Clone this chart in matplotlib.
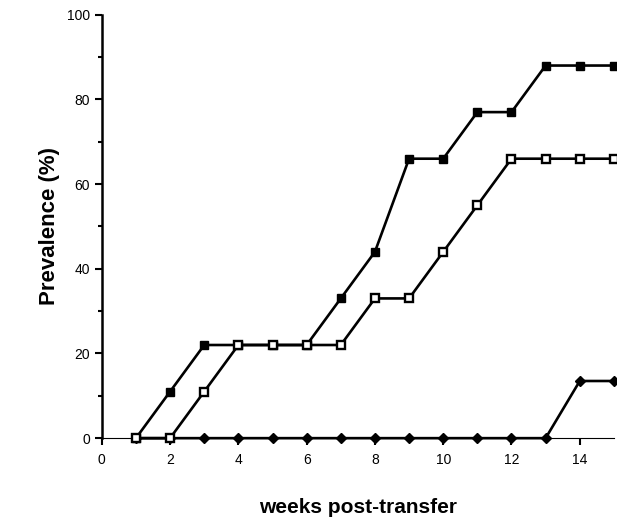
import numpy as np
import matplotlib
matplotlib.use('Agg')
import matplotlib.pyplot as plt
from matplotlib.ticker import MultipleLocator

plt.rcParams['font.family'] = ['Liberation Sans', 'DejaVu Sans']

# data
weeks = [1, 2, 3, 4, 5, 6, 7, 8, 9, 10, 11, 12, 13, 14, 15]
filled_sq = [0, 11, 22, 22, 22, 22, 33, 44, 66, 66, 77, 77, 88, 88, 88]
open_sq = [0, 0, 11, 22, 22, 22, 22, 33, 33, 44, 55, 66, 66, 66, 66]
diamonds = [0, 0, 0, 0, 0, 0, 0, 0, 0, 0, 0, 0, 0, 13.5, 13.5]

fig = plt.figure(figsize=(6.17, 5.26), dpi=100)
ax = fig.add_axes([0.165, 0.167, 0.83, 0.805])

ax.plot(weeks, diamonds, color='black', lw=1.9, marker='D', markersize=5.5,
        markerfacecolor='black', markeredgecolor='black', zorder=2, clip_on=False)
ax.plot(weeks, filled_sq, color='black', lw=1.9, marker='s', markersize=5.8,
        markerfacecolor='black', markeredgecolor='black', zorder=3, clip_on=False)
ax.plot(weeks, open_sq, color='black', lw=1.9, marker='s', markersize=5.2,
        markerfacecolor='white', markeredgecolor='black', markeredgewidth=1.7,
        zorder=4, clip_on=False)

ax.set_xlim(0, 15)
ax.set_ylim(0, 100)
ax.spines['top'].set_visible(False)
ax.spines['right'].set_visible(False)
ax.spines['left'].set_linewidth(1.8)
ax.spines['bottom'].set_linewidth(0.8)

ax.xaxis.set_major_locator(MultipleLocator(2))
ax.yaxis.set_major_locator(MultipleLocator(20))
ax.yaxis.set_minor_locator(MultipleLocator(10))
ax.tick_params(axis='both', which='major', direction='out', length=5, width=1.5,
               labelsize=10, colors='black')
ax.tick_params(axis='y', which='minor', direction='out', length=3, width=1.5)
ax.tick_params(axis='x', pad=6)

ax.set_ylabel('Prevalence (%)', fontsize=16, fontweight='bold', labelpad=5)
ax.set_xlabel('weeks post-transfer', fontsize=15, fontweight='bold', labelpad=22)

plt.savefig('out.png', dpi=100)
